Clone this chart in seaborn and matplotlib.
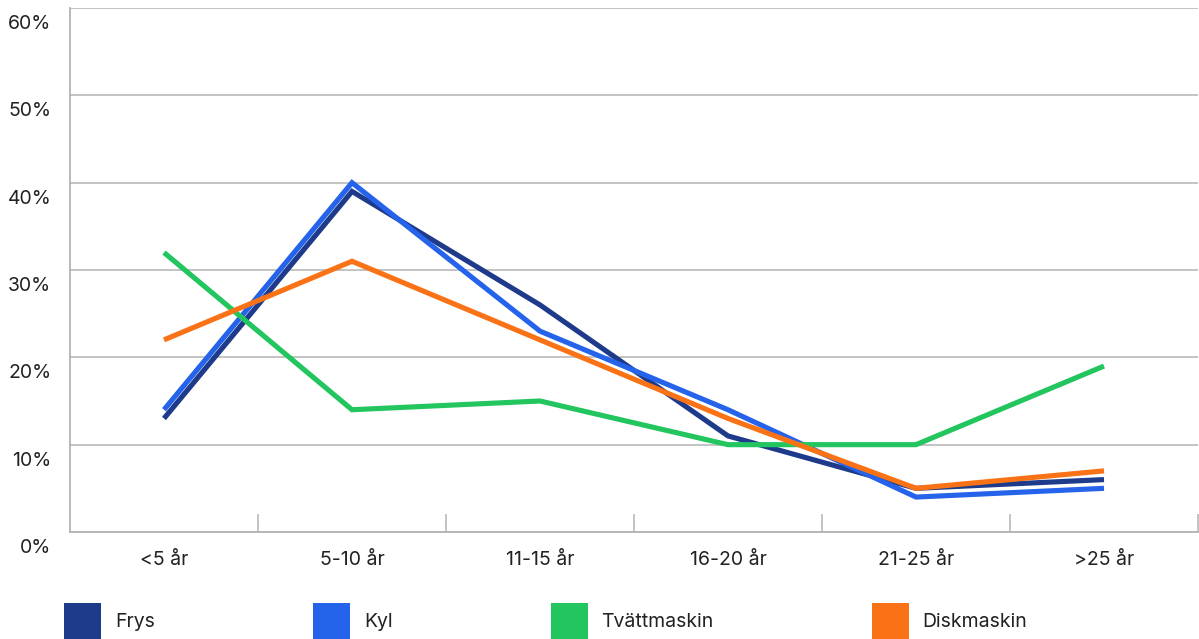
import matplotlib
matplotlib.use("Agg")
import matplotlib.pyplot as plt
import matplotlib.transforms as mtransforms
from matplotlib.patches import Patch
from matplotlib.ticker import FixedLocator, FuncFormatter
import seaborn as sns
import pandas as pd

# Age groups of the appliances
categories = ["<5 år", "5-10 år", "11-15 år", "16-20 år", "21-25 år", ">25 år"]

# Share of appliances per age group (%)
frys = [13, 39, 26, 11, 5, 6]
kyl = [14, 40, 23, 14, 4, 5]
tvattmaskin = [32, 14, 15, 10, 10, 19]
diskmaskin = [22, 31, 22, 13, 5, 7]

series_names = ["Frys", "Kyl", "Tvättmaskin", "Diskmaskin"]
series_values = [frys, kyl, tvattmaskin, diskmaskin]
colors = ["#1e3a8a", "#2563eb", "#22c55e", "#f97316"]

y_ticks = [0, 10, 20, 30, 40, 50, 60]

rows = []
for name, vals in zip(series_names, series_values):
    for i, v in enumerate(vals):
        rows.append({"pos": i, "andel": v, "typ": name})
df = pd.DataFrame(rows)

sns.set_theme(style="white")
plt.rcParams["font.family"] = ["Inter", "DejaVu Sans"]
text_color = "#222222"
grid_color = "#b3b3b3"
font_pt = 14

W, H = 1199, 639
fig = plt.figure(figsize=(W / 100, H / 100), dpi=100)
ax = fig.add_axes([70 / W, 1 - 532 / H, (1198 - 70) / W, (532 - 8) / H])

sns.lineplot(
    data=df, x="pos", y="andel", hue="typ", hue_order=series_names,
    palette=colors, linewidth=3.7, ax=ax, legend=False,
    solid_joinstyle="miter", solid_capstyle="butt",
)

ax.set_xlim(-0.5, len(categories) - 0.5)
ax.set_ylim(0, 60)

# Horizontal grid lines
ax.yaxis.set_major_locator(FixedLocator(y_ticks))
ax.yaxis.set_major_formatter(FuncFormatter(lambda v, p: f"{int(v)}%"))
ax.grid(axis="y", color=grid_color, linewidth=1.1)
ax.grid(axis="x", visible=False)
ax.set_axisbelow(True)

# Category boundaries get tick marks, centres get the labels
ax.xaxis.set_major_locator(FixedLocator([i + 0.5 for i in range(len(categories))]))
ax.xaxis.set_major_formatter(FuncFormatter(lambda v, p: ""))
ax.xaxis.set_minor_locator(FixedLocator(list(range(len(categories)))))
ax.xaxis.set_minor_formatter(FuncFormatter(lambda v, p: categories[int(round(v))]))
ax.tick_params(axis="x", which="major", direction="in", length=13, width=1.1,
               color=grid_color, bottom=True)
ax.tick_params(axis="x", which="minor", length=0, pad=13.5, labelsize=font_pt,
               labelcolor=text_color, bottom=True)
ax.tick_params(axis="y", length=0, pad=13.5, labelsize=font_pt, labelcolor=text_color)

# Percent labels sit just below their grid line
offset = mtransforms.ScaledTranslation(0, -14 / 100, fig.dpi_scale_trans)
for lbl in ax.get_yticklabels():
    lbl.set_transform(lbl.get_transform() + offset)

for side in ["top", "right"]:
    ax.spines[side].set_visible(False)
for side in ["left", "bottom"]:
    ax.spines[side].set_color(grid_color)
    ax.spines[side].set_linewidth(1.3)

ax.set_xlabel("")
ax.set_ylabel("")

handles = [Patch(facecolor=c, edgecolor="none", label=n) for n, c in zip(series_names, colors)]
fs = font_pt * 100 / 72
fig.legend(
    handles=handles, loc="upper left", bbox_to_anchor=(64 / W, 1 - 603 / H),
    bbox_transform=fig.transFigure, ncol=4, frameon=False, fontsize=font_pt,
    handlelength=37 / fs, handleheight=2.55, handletextpad=14 / fs,
    columnspacing=158 / fs, borderpad=0, borderaxespad=0, labelcolor=text_color,
)

fig.savefig("out.png", dpi=100)
